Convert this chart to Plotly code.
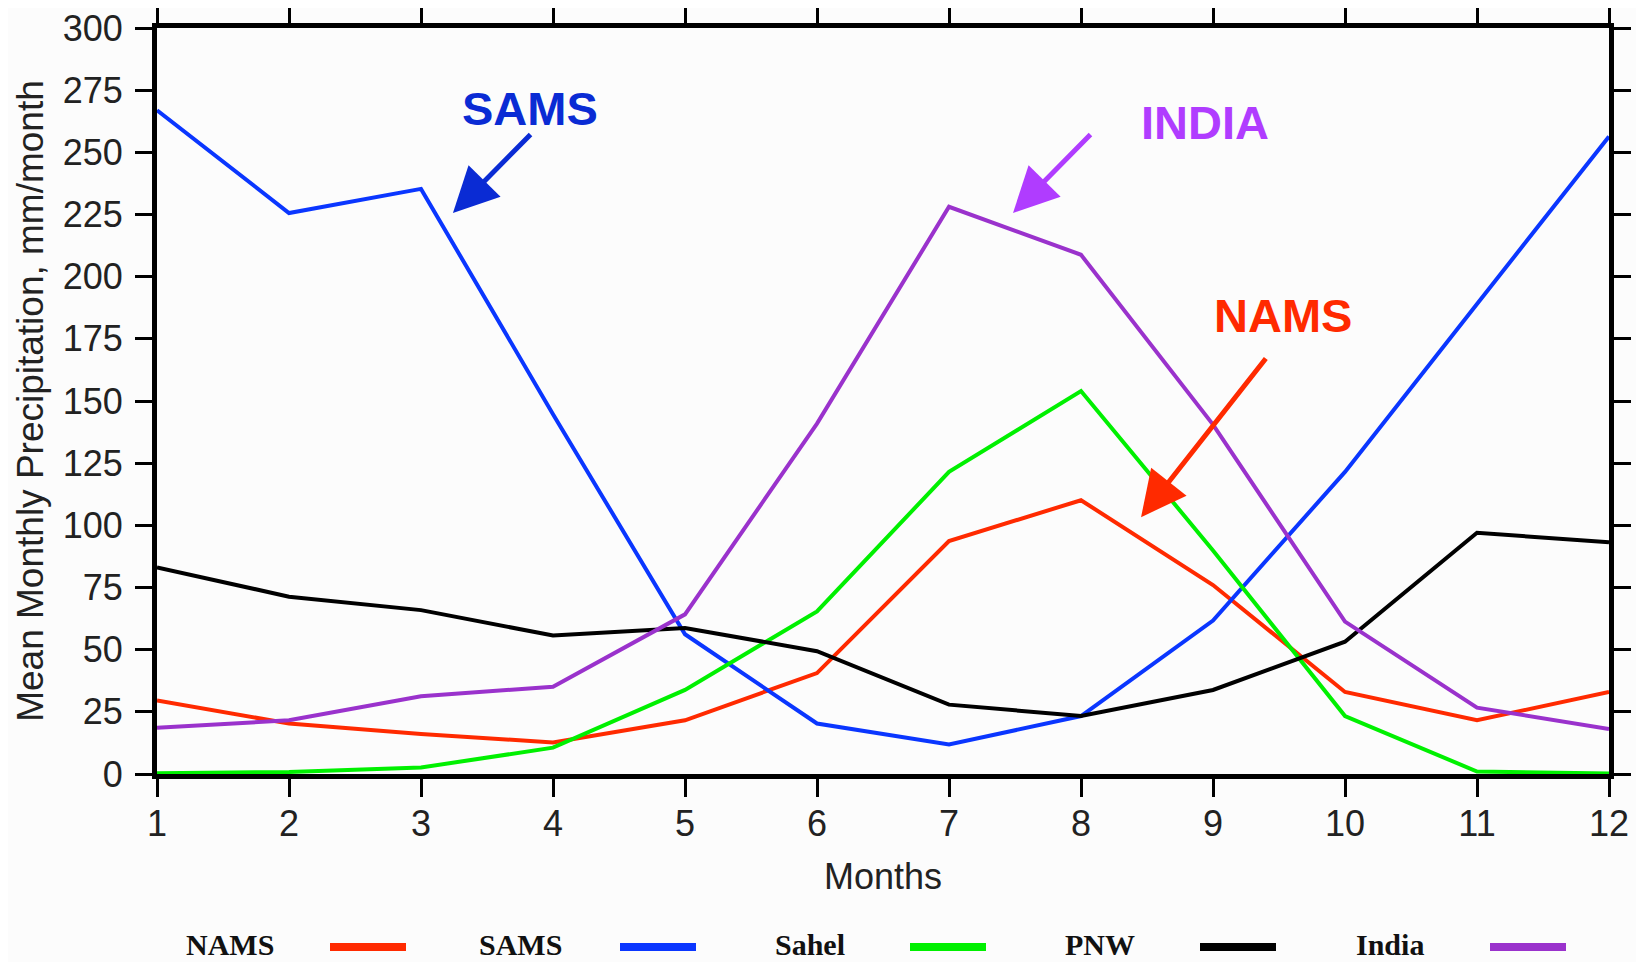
import plotly.graph_objects as go

months = list(range(1, 13))
series_names = ["NAMS", "SAMS", "Sahel", "PNW", "India"]
series_colors = ["#ff2a00", "#0a36ff", "#00f000", "#000000", "#9a32cc"]

nams = [29.6, 20.3, 16.1, 12.7, 21.6, 40.6, 93.7, 110.1, 76.0, 33.0, 21.6, 33.0]
sams = [266.9, 225.6, 235.3, 144.7, 56.2, 20.3, 11.9, 23.3, 61.7, 121.5, 189.0, 256.4]
sahel = [0.3, 0.8, 2.6, 10.6, 33.8, 65.4, 121.5, 154.0, 89.9, 23.3, 1.0, 0.2]
pnw = [83.1, 71.3, 65.9, 55.7, 58.7, 49.4, 27.9, 23.3, 33.8, 53.2, 97.0, 93.2]
india = [18.6, 21.6, 31.3, 35.1, 64.2, 140.9, 228.1, 208.8, 140.5, 61.3, 26.7, 18.1]
series_values = [nams, sams, sahel, pnw, india]

y_ticks = list(range(0, 301, 25))

# page has an 8px body margin; size the figure so the plot area lands where intended
OFF = 8
W, H = 1644 - OFF, 962 - OFF
L, R, T, B = 149, 35, 20, 188
pw = W - L - R
ph = H - T - B
PLOT_LEFT_PAGE = OFF + L
PLOT_BOTTOM_PAGE = OFF + H - B

def px_x(px):
    return (px - PLOT_LEFT_PAGE) / pw

def px_y(py):
    return (PLOT_BOTTOM_PAGE - py) / ph

fig = go.Figure()
for name, color, vals in zip(series_names, series_colors, series_values):
    fig.add_trace(go.Scatter(x=months, y=vals, mode="lines", name=name,
                             line=dict(color=color, width=4), showlegend=False))

# callout annotations (text + arrows)
callouts = [
    # text, color, text_x, text_y, tail_x, tail_y, tip_x, tip_y
    ("SAMS", "#0a2bd4", 3.826, 267.8, 3.841, 257.8, 3.242, 225.6),
    ("INDIA", "#b03cff", 8.939, 261.8, 8.083, 257.8, 7.485, 225.6),
    ("NAMS", "#ff2a00", 9.530, 184.2, 9.409, 167.7, 8.455, 103.3),
]
for txt, col, tx, ty, ax, ay, hx, hy in callouts:
    fig.add_annotation(x=tx, y=ty, text="<b>%s</b>" % txt, showarrow=False,
                       font=dict(family="Liberation Sans, Arial", size=47, color=col),
                       xanchor="center", yanchor="middle")
    fig.add_annotation(x=hx, y=hy, ax=ax, ay=ay, axref="x", ayref="y", text="",
                       showarrow=True, arrowhead=2, arrowsize=1.8, arrowwidth=5,
                       arrowcolor=col, standoff=0)

# custom legend: label then line sample
for i, (name, color) in enumerate(zip(series_names, series_colors)):
    cx = 230 + 290 * i
    fig.add_annotation(xref="paper", yref="paper", x=px_x(cx), y=px_y(944),
                       text="<b>%s</b>" % name, showarrow=False,
                       font=dict(family="Liberation Serif, Times New Roman", size=30, color="#111111"),
                       xanchor="center", yanchor="middle")
    fig.add_shape(type="line", xref="paper", yref="paper",
                  x0=px_x(330 + 290 * i), x1=px_x(406 + 290 * i),
                  y0=px_y(947), y1=px_y(947),
                  line=dict(color=color, width=8))

axis_font = dict(family="Liberation Sans, Arial", size=36, color="#222222")
fig.update_layout(
    width=W, height=H,
    margin=dict(l=L, r=R, t=T, b=B, autoexpand=False),
    paper_bgcolor="#fcfcfc", plot_bgcolor="#fcfcfc",
    font=axis_font,
    xaxis=dict(range=[1, 12], tickvals=months, ticktext=[str(m) for m in months],
               showgrid=False, zeroline=False, showline=True, linewidth=5, linecolor="black",
               mirror="ticks", ticks="outside", ticklen=18, tickwidth=3, tickcolor="black",
               tickfont=axis_font, ticklabelstandoff=-4, ticklabeloverflow="allow",
               title=dict(text="Months", font=axis_font, standoff=22)),
    yaxis=dict(range=[0, 300], tickvals=y_ticks, showgrid=False, zeroline=False,
               showline=True, linewidth=5, linecolor="black",
               mirror="ticks", ticks="outside", ticklen=17, tickwidth=3, tickcolor="black",
               tickfont=axis_font, ticklabelstandoff=5, ticklabeloverflow="allow",
               title=dict(text="Mean Monthly Precipitation, mm/month", font=dict(family="Liberation Sans, Arial", size=37, color="#222222"), standoff=9)),
)

fig.write_html("out.html")
